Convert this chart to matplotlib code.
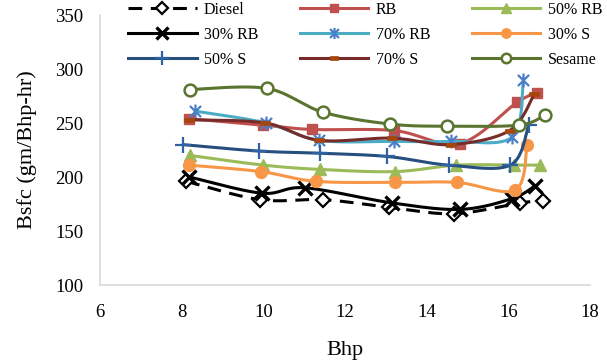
import numpy as np
import matplotlib
matplotlib.use("Agg")
import matplotlib.pyplot as plt
from matplotlib.path import Path
from matplotlib.lines import Line2D

# Brake power (Bhp) and brake specific fuel consumption (gm/Bhp-hr) per fuel
diesel_x = [8.11, 9.92, 11.47, 13.07, 14.66, 16.29, 16.85]
diesel_y = [196, 179, 179, 172, 166, 176, 178]
rb_x = [8.19, 10.00, 11.20, 13.21, 14.81, 16.21, 16.70]
rb_y = [254, 248, 244, 243, 231, 269, 278]
rb50_x = [8.20, 10.00, 11.40, 13.23, 14.73, 16.13, 16.78]
rb50_y = [220, 211, 207, 205, 211, 211, 211]
rb30_x = [8.19, 9.96, 11.02, 13.15, 14.82, 16.09, 16.66]
rb30_y = [200, 185, 190, 176, 170, 180, 192]
rb70_x = [8.33, 10.07, 11.37, 13.19, 14.59, 16.09, 16.37]
rb70_y = [261, 250, 234, 233, 233, 237, 290]
s30_x = [8.18, 9.94, 11.29, 13.23, 14.74, 16.17, 16.46]
s30_y = [211, 205, 196, 195, 195, 188, 230]
s50_x = [8.03, 9.90, 11.38, 13.04, 14.54, 16.05, 16.50]
s50_y = [230, 224, 222, 219, 211, 211, 248]
s70_x = [8.19, 10.05, 11.36, 13.16, 14.59, 16.03, 16.64]
s70_y = [253, 250, 234, 236, 230, 243, 277]
sesame_x = [8.21, 10.09, 11.46, 13.11, 14.51, 16.25, 16.89]
sesame_y = [281, 282, 260, 249, 247, 248, 257]

x_ticks = [6, 8, 10, 12, 14, 16, 18]
y_ticks = [100, 150, 200, 250, 300, 350]

plt.rcParams["font.family"] = ["Liberation Serif", "DejaVu Serif"]

# asterisk marker: vertical bar plus an X
star = Path(
    [(0, -1), (0, 1), (-0.8, -0.8), (0.8, 0.8), (-0.8, 0.8), (0.8, -0.8)],
    [Path.MOVETO, Path.LINETO, Path.MOVETO, Path.LINETO, Path.MOVETO, Path.LINETO],
)
# flat rectangular marker
rect = Path([(-1, -0.55), (1, -0.55), (1, 0.55), (-1, 0.55), (-1, -0.55)],
            [Path.MOVETO, Path.LINETO, Path.LINETO, Path.LINETO, Path.CLOSEPOLY])


def smooth(xs, ys, n=30):
    """Catmull-Rom curve through the points (smoothed line rendering)."""
    p = np.column_stack([xs, ys]).astype(float)
    p = np.vstack([p[0], p, p[-1]])
    out = []
    for i in range(1, len(p) - 2):
        p0, p1, p2, p3 = p[i - 1], p[i], p[i + 1], p[i + 2]
        t = np.linspace(0, 1, n, endpoint=(i == len(p) - 3))[:, None]
        seg = 0.5 * ((2 * p1) + (-p0 + p2) * t
                     + (2 * p0 - 5 * p1 + 4 * p2 - p3) * t ** 2
                     + (-p0 + 3 * p1 - 3 * p2 + p3) * t ** 3)
        out.append(seg)
    c = np.vstack(out)
    return c[:, 0], c[:, 1]


series = [
    dict(label="Diesel", x=diesel_x, y=diesel_y, lc="black", ls=(0, (4.5, 2.8)),
         m="D", ms=7.5, mfc="white", mec="black", mew=1.6),
    dict(label="RB", x=rb_x, y=rb_y, lc="#C0504D", ls="-",
         m="s", ms=7.5, mfc="#C0504D", mec="#C0504D", mew=1),
    dict(label="50% RB", x=rb50_x, y=rb50_y, lc="#9BBB59", ls="-",
         m="^", ms=9, mfc="#9BBB59", mec="#9BBB59", mew=1),
    dict(label="30% RB", x=rb30_x, y=rb30_y, lc="black", ls="-",
         m="x", ms=10, mfc="black", mec="black", mew=2.4),
    dict(label="70% RB", x=rb70_x, y=rb70_y, lc="#4BACC6", ls="-",
         m=star, ms=10, mfc="none", mec="#4A7EC8", mew=1.6),
    dict(label="30% S", x=s30_x, y=s30_y, lc="#F79646", ls="-",
         m="o", ms=8.5, mfc="#F79646", mec="#F79646", mew=1),
    dict(label="50% S", x=s50_x, y=s50_y, lc="#264F7F", ls="-",
         m="+", ms=12, mfc="#2F62A3", mec="#2F62A3", mew=1.6),
    dict(label="70% S", x=s70_x, y=s70_y, lc="#772C2A", ls="-",
         m=rect, ms=6.5, mfc="#A5470D", mec="#A5470D", mew=0.5),
    dict(label="Sesame", x=sesame_x, y=sesame_y, lc="#5B7530", ls="-",
         m="o", ms=8.5, mfc="white", mec="#5B7530", mew=1.8),
]

fig = plt.figure(figsize=(6.07, 3.64), dpi=100)
ax = fig.add_axes([100 / 607, 1 - 285 / 364, 490 / 607, 270 / 364])

handles = {}
for s in series:
    sx, sy = smooth(s["x"], s["y"])
    ax.plot(sx, sy, color=s["lc"], linestyle=s["ls"], linewidth=2.2,
            solid_capstyle="round")
    ax.plot(s["x"], s["y"], linestyle="none", marker=s["m"], markersize=s["ms"],
            markerfacecolor=s["mfc"], markeredgecolor=s["mec"],
            markeredgewidth=s["mew"])
    handles[s["label"]] = Line2D([], [], color=s["lc"], linestyle=s["ls"],
                                 linewidth=2.2, marker=s["m"],
                                 markersize=s["ms"] * 0.8,
                                 markerfacecolor=s["mfc"],
                                 markeredgecolor=s["mec"],
                                 markeredgewidth=s["mew"])

ax.set_xlim(6, 18)
ax.set_ylim(100, 350)
ax.set_xticks(x_ticks)
ax.set_yticks(y_ticks)
ax.tick_params(length=0, labelsize=13.5, colors="black")
ax.tick_params(axis="x", pad=14)
ax.tick_params(axis="y", pad=12)
for side in ("top", "right"):
    ax.spines[side].set_visible(False)
for side in ("left", "bottom"):
    ax.spines[side].set_color("#D9D9D9")
    ax.spines[side].set_linewidth(1.2)
ax.set_xlabel("Bhp", fontsize=16, labelpad=14)
ax.set_ylabel("Bsfc (gm/Bhp-hr)", fontsize=16, labelpad=13)

# legend laid out row by row: three entries per row
order = ["Diesel", "30% RB", "50% S", "RB", "70% RB", "70% S",
         "50% RB", "30% S", "Sesame"]
fig.legend([handles[k] for k in order], order, ncol=3, frameon=False,
           loc="upper left", bbox_to_anchor=(128 / 607, 1 - 2 / 364),
           fontsize=11.5, handlelength=4.3, handletextpad=0.45,
           columnspacing=2.6, labelspacing=0.55, borderpad=0, borderaxespad=0)

fig.savefig("out.png", dpi=100)
